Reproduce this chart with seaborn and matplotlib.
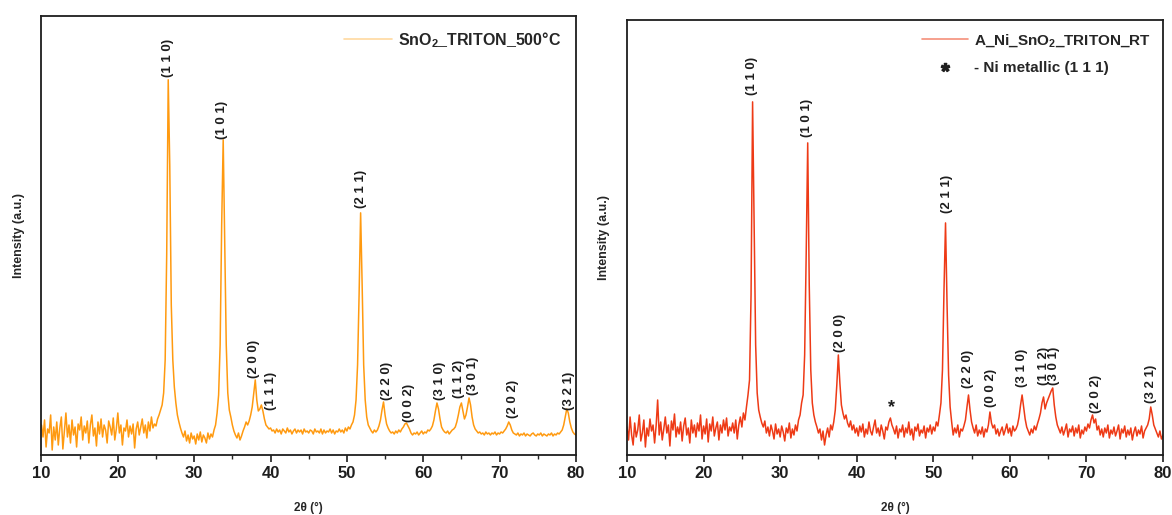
import numpy as np
import matplotlib
matplotlib.use("Agg")
import matplotlib.pyplot as plt
from matplotlib.lines import Line2D
import seaborn as sns


# DATA (intensity, arbitrary units, 0.2 deg steps)
two_theta = np.round(np.arange(10, 80.001, 0.2), 1)

sno2_500 = [
    30, 18, 35, 8, 26,  22, 40, 5, 28, 15,  33, 10, 27, 38, 6,  24, 42, 18, 30, 12,
    35, 20, 28, 8, 31,  25, 38, 15, 29, 22,  34, 12, 30, 40, 19,  27, 9, 33, 21, 36,
    18, 30, 25, 12, 34,  28, 20, 37, 15, 26,  42, 22, 30, 10, 27,  24, 35, 18, 29, 21,
    31, 7, 26, 33, 20,  28, 36, 22, 30, 17,  33, 24, 38, 27, 31,  29, 36, 40, 45, 50,
    62, 95, 200, 375, 290,  150, 95, 68, 52, 40,  33, 27, 22, 18, 24,  14, 20, 12, 22, 16,
    19, 11, 21, 15, 23,  13, 20, 17, 12, 22,  16, 21, 18, 25, 30,  42, 60, 110, 230, 315,
    210, 110, 62, 45, 38,  30, 24, 20, 17, 22,  15, 19, 24, 28, 33,  30, 34, 40, 48, 62,
    75, 55, 44, 46, 50,  44, 36, 30, 28, 26,  27, 24, 25, 22, 26,  23, 25, 21, 26, 24,
    22, 27, 23, 25, 21,  24, 26, 22, 25, 23,  25, 21, 26, 23, 24,  22, 25, 24, 21, 26,
    23, 24, 22, 26, 21,  25, 22, 24, 23, 26,  22, 25, 21, 24, 23,  26, 23, 25, 22, 27,
    24, 28, 26, 30, 33,  40, 55, 90, 160, 242,  170, 90, 55, 38, 30,  27, 24, 22, 25, 23,
    25, 29, 35, 45, 53,  40, 31, 27, 24, 22,  23, 21, 24, 22, 25,  23, 26, 28, 31, 32,
    29, 26, 22, 20, 22,  21, 23, 20, 22, 24,  21, 23, 22, 25, 24,  26, 29, 35, 44, 52,
    46, 36, 28, 25, 23,  22, 24, 21, 23, 25,  26, 28, 33, 40, 48,  52, 44, 36, 40, 48,
    57, 50, 38, 30, 26,  24, 22, 23, 21, 22,  20, 23, 21, 22, 20,  22, 21, 23, 20, 22,
    21, 23, 22, 24, 26,  29, 33, 30, 25, 22,  21, 20, 22, 19, 21,  20, 22, 19, 21, 20,
    19, 21, 22, 20, 19,  21, 20, 22, 19, 21,  20, 19, 21, 20, 22,  19, 21, 20, 22, 21,
    23, 25, 30, 38, 46,  42, 33, 27, 23, 21,  20,
]

ni_sno2_rt = [
    28, 15, 38, 20, 10,  32, 18, 25, 40, 14,  22, 35, 8, 27, 19,  36, 24, 30, 12, 29,
    55, 20, 33, 15, 26,  38, 22, 30, 9, 34,  25, 41, 18, 28, 21,  33, 14, 29, 37, 20,
    27, 12, 35, 22, 30,  18, 32, 24, 40, 16,  29, 21, 36, 13, 31,  24, 38, 19, 27, 33,
    15, 30, 22, 35, 25,  37, 19, 28, 24, 32,  22, 35, 16, 30, 38,  28, 42, 35, 48, 60,
    75, 160, 353, 230, 110,  62, 45, 38, 32, 28,  34, 22, 28, 19, 30,  24, 16, 31, 21, 26,
    18, 29, 23, 14, 27,  22, 32, 17, 26, 20,  30, 24, 35, 40, 52,  60, 100, 200, 312, 170,
    85, 52, 40, 33, 28,  22, 26, 15, 24, 10,  20, 27, 18, 30, 25,  33, 45, 70, 100, 72,
    50, 42, 36, 40, 32,  28, 34, 25, 30, 22,  27, 19, 29, 23, 31,  18, 26, 21, 33, 24,
    20, 28, 35, 22, 27,  19, 30, 24, 16, 28,  25, 33, 37, 30, 26,  21, 29, 17, 26, 23,
    30, 18, 27, 22, 33,  20, 26, 15, 28, 24,  31, 19, 25, 22, 29,  17, 27, 23, 30, 21,
    28, 24, 33, 29, 40,  52, 85, 165, 232, 150,  80, 48, 33, 20, 27,  22, 30, 18, 26, 24,
    29, 35, 48, 60, 45,  33, 27, 22, 30, 19,  25, 21, 28, 18, 26,  23, 30, 43, 32, 27,
    30, 21, 26, 19, 24,  28, 20, 25, 31, 22,  27, 19, 29, 24, 26,  30, 38, 50, 60, 48,
    36, 28, 24, 20, 26,  22, 29, 25, 31, 36,  42, 52, 58, 46, 52,  56, 60, 64, 67, 50,
    38, 30, 26, 22, 28,  20, 25, 31, 18, 26,  23, 29, 19, 27, 22,  30, 17, 25, 21, 28,
    24, 31, 27, 35, 40,  32, 36, 25, 29, 20,  26, 18, 27, 22, 30,  17, 25, 21, 28, 19,
    24, 30, 16, 26, 22,  29, 18, 25, 20, 27,  15, 23, 28, 19, 25,  21, 29, 17, 24, 27,
    30, 36, 48, 40, 30,  26, 22, 18, 24, 16,  20,
]

# peak labels: (hkl, 2theta of label, intensity at label foot)
left_hkl = ["(1 1 0)", "(1 0 1)", "(2 0 0)", "(1 1 1)", "(2 1 1)", "(2 2 0)", "(0 0 2)",
            "(3 1 0)", "(1 1 2)", "(3 0 1)", "(2 0 2)", "(3 2 1)"]
left_hkl_x = [26.6, 33.7, 37.8, 40.0, 51.8, 55.2, 58.2, 62.2, 64.7, 66.5, 71.8, 79.1]
left_hkl_y = [378, 316, 77, 45, 247, 55, 33, 55, 57, 60, 37, 45]

right_hkl = ["(1 1 0)", "(1 0 1)", "(2 0 0)", "(2 1 1)", "(2 2 0)", "(0 0 2)",
             "(3 1 0)", "(1 1 2)", "(3 0 1)", "(2 0 2)", "(3 2 1)"]
right_hkl_x = [26.3, 33.5, 37.8, 51.8, 54.5, 57.6, 61.6, 64.4, 65.8, 71.3, 78.5]
right_hkl_y = [360, 318, 103, 242, 67, 48, 68, 70, 70, 42, 52]

ni_star_x = 44.6
ni_star_y = 47


# STYLE
sns.set_style("ticks")
plt.rcParams['font.family'] = ['Liberation Sans', 'DejaVu Sans']
plt.rcParams['font.weight'] = 'bold'
plt.rcParams['mathtext.fontset'] = 'custom'
plt.rcParams['mathtext.rm'] = 'Liberation Sans:bold'
plt.rcParams['mathtext.bf'] = 'Liberation Sans:bold'
plt.rcParams['mathtext.default'] = 'bf'

orange = "#FF9A10"
red = "#EE3A16"
ink = "#1E1E1E"

fig = plt.figure(figsize=(11.72, 5.15), dpi=100)
ax1 = fig.add_axes([0.0354, 0.1165, 0.456, 0.853])
ax2 = fig.add_axes([0.535, 0.1165, 0.4573, 0.845])


def style_axis(ax, top):
    ax.set_xlim(10, 80)
    ax.set_ylim(0, top)
    ax.set_yticks([])
    ax.set_xticks(range(10, 81, 10))
    ax.set_xticks(range(15, 80, 10), minor=True)
    ax.tick_params(axis='x', which='major', direction='out', length=5, width=1.2,
                   labelsize=12, pad=3, colors=ink)
    ax.tick_params(axis='x', which='minor', direction='out', length=3, width=1.0)
    for s in ax.spines.values():
        s.set_linewidth(1.3)
        s.set_color(ink)
    ax.set_xlabel("2θ (°)", fontsize=8.5, fontweight='bold', labelpad=15)
    ax.set_ylabel("Intensity (a.u.)", fontsize=9, fontweight='bold', labelpad=12)


# LEFT PANEL
sns.lineplot(x=two_theta, y=sno2_500, ax=ax1, color=orange, linewidth=1.1,
             estimator=None)
style_axis(ax1, 439)
for lab, x, y in zip(left_hkl, left_hkl_x, left_hkl_y):
    ax1.text(x, y, lab, rotation=90, ha='center', va='bottom', fontsize=9.5,
             fontweight='bold', color=ink)
ax1.legend(handles=[Line2D([], [], color='#FFD9A0', linewidth=1.2)],
           labels=["SnO$_2$_TRITON_500°C"], loc='upper right', frameon=False,
           fontsize=11.5, handlelength=3, borderaxespad=0.5, handletextpad=0.4)

# RIGHT PANEL
sns.lineplot(x=two_theta, y=ni_sno2_rt, ax=ax2, color=red, linewidth=1.1,
             estimator=None)
style_axis(ax2, 435)
for lab, x, y in zip(right_hkl, right_hkl_x, right_hkl_y):
    ax2.text(x, y, lab, rotation=90, ha='center', va='bottom', fontsize=9.5,
             fontweight='bold', color=ink)
ax2.text(ni_star_x, ni_star_y, "*", ha='center', va='center', fontsize=13,
         fontweight='bold', color=ink)
ax2.legend(handles=[Line2D([], [], color='#F5907A', linewidth=1.2),
                    Line2D([], [], color=ink, marker='$*$', linestyle='None',
                           markersize=6)],
           labels=["A_Ni_SnO$_2$_TRITON_RT", "- Ni metallic (1 1 1)"],
           loc='upper right', frameon=False, fontsize=11, handlelength=3,
           borderaxespad=0.4, labelspacing=0.8, handletextpad=0.4)

plt.savefig("out.png", dpi=100)
